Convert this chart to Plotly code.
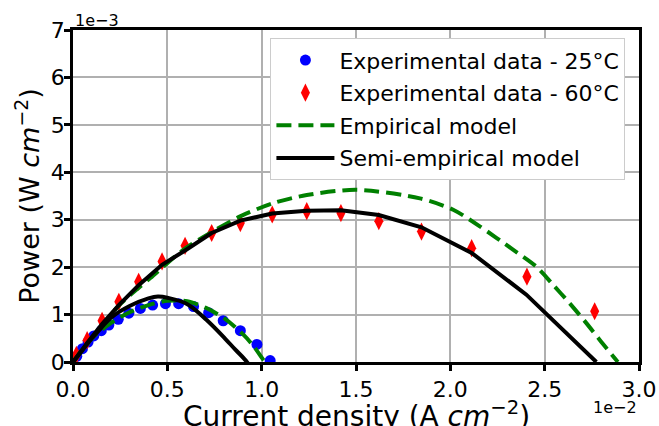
import plotly.graph_objects as go

# Current density in units of 1e-2 A/cm^2, power in units of 1e-3 W/cm^2
exp25_x = [0.02, 0.05, 0.08, 0.11, 0.15, 0.19, 0.24, 0.296, 0.357, 0.422, 0.49, 0.56, 0.639, 0.719, 0.796, 0.887, 0.975, 1.045]
exp25_y = [0.12, 0.28, 0.42, 0.55, 0.66, 0.78, 0.90, 1.03, 1.13, 1.20, 1.23, 1.23, 1.17, 1.04, 0.87, 0.66, 0.37, 0.03]

exp60_x = [0.018, 0.075, 0.154, 0.243, 0.348, 0.472, 0.594, 0.735, 0.887, 1.056, 1.239, 1.42, 1.621, 1.847, 2.113, 2.406, 2.765]
exp60_y = [0.15, 0.46, 0.87, 1.27, 1.69, 2.12, 2.45, 2.72, 2.93, 3.11, 3.18, 3.14, 2.97, 2.75, 2.40, 1.80, 1.07]

emp25_x = [0.0, 0.1, 0.2, 0.3, 0.4, 0.5, 0.605, 0.705, 0.806, 0.907, 0.958, 1.008, 1.018]
emp25_y = [0.0, 0.5, 0.82, 1.05, 1.2, 1.29, 1.28, 1.14, 0.91, 0.56, 0.33, 0.05, 0.0]

emp60_x = [0.0, 0.1, 0.25, 0.41, 0.586, 0.727, 0.886, 1.062, 1.239, 1.504, 1.839, 2.015, 2.156, 2.332, 2.456, 2.544, 2.632, 2.721, 2.791, 2.888]
emp60_y = [0.0, 0.5, 1.22, 1.77, 2.37, 2.72, 3.07, 3.35, 3.52, 3.63, 3.45, 3.21, 2.86, 2.37, 2.01, 1.63, 1.24, 0.82, 0.47, 0.0]

semi25_x = [0.0, 0.05, 0.1, 0.15, 0.2, 0.3, 0.4, 0.45, 0.505, 0.606, 0.707, 0.807, 0.858, 0.909, 0.96]
semi25_y = [0.0, 0.25, 0.5, 0.72, 0.93, 1.18, 1.34, 1.38, 1.35, 1.22, 0.89, 0.49, 0.27, 0.06, -0.2]

semi60_x = [0.0, 0.018, 0.075, 0.154, 0.243, 0.348, 0.472, 0.594, 0.735, 0.887, 1.056, 1.239, 1.42, 1.621, 1.847, 2.113, 2.403, 2.774]
semi60_y = [0.0, 0.1, 0.4, 0.8, 1.2, 1.62, 2.05, 2.35, 2.72, 2.98, 3.13, 3.19, 3.20, 3.10, 2.84, 2.30, 1.42, 0.0]

x_ticks = [0.0, 0.5, 1.0, 1.5, 2.0, 2.5, 3.0]
y_ticks = [0, 1, 2, 3, 4, 5, 6, 7]

FONT = "DejaVu Sans"
DASH = "15px,7px"

fig = go.Figure()
fig.add_trace(go.Scatter(x=exp25_x, y=exp25_y, mode="markers", name="Experimental data - 25°C", legendgroup="b",
                         marker=dict(color="blue", size=11, symbol="circle", line=dict(width=0))))
fig.add_trace(go.Scatter(x=exp60_x, y=exp60_y, mode="markers", name="Experimental data - 60°C", legendgroup="r",
                         marker=dict(color="red", size=13, symbol="diamond-tall", line=dict(width=0))))
fig.add_trace(go.Scatter(x=emp25_x, y=emp25_y, mode="lines", name="Empirical model", legendgroup="emp",
                         line=dict(color="green", width=4, dash=DASH, shape="spline", smoothing=0.8)))
fig.add_trace(go.Scatter(x=emp60_x, y=emp60_y, mode="lines", name="Empirical model", legendgroup="emp",
                         showlegend=False,
                         line=dict(color="green", width=4, dash=DASH, shape="spline", smoothing=0.8)))
fig.add_trace(go.Scatter(x=semi25_x, y=semi25_y, mode="lines", name="Semi-empirical model", legendgroup="semi",
                         line=dict(color="black", width=4, shape="spline")))
fig.add_trace(go.Scatter(x=semi60_x, y=semi60_y, mode="lines", name="Semi-empirical model", legendgroup="semi",
                         showlegend=False, line=dict(color="black", width=4)))

axis_common = dict(showgrid=True, gridcolor="#b0b0b0", gridwidth=1.5, showline=True, linecolor="black",
                   linewidth=2.5, mirror=True, ticks="outside", ticklen=6, tickwidth=2.5, tickcolor="black",
                   zeroline=False, automargin=False, tickfont=dict(family=FONT, size=22, color="black"))

fig.update_layout(
    width=659, height=426,
    margin=dict(l=72.5, r=19.5, t=30, b=63.7),
    paper_bgcolor="white", plot_bgcolor="white",
    font=dict(family=FONT, color="black"),
    showlegend=True,
    legend=dict(x=0.976, y=0.975, xanchor="right", yanchor="top", bgcolor="white",
                bordercolor="#cccccc", borderwidth=1, font=dict(family=FONT, size=22),
                tracegroupgap=1, itemwidth=58),
    xaxis=dict(range=[0, 3.0], tickvals=x_ticks, tickformat=".1f", **axis_common),
    yaxis=dict(range=[0, 7], tickvals=y_ticks, ticklabelstandoff=-5,
               title=dict(text="Power (W <i>cm</i><sup>−2</sup>)", font=dict(family=FONT, size=27), standoff=4),
               **axis_common),
    annotations=[
        dict(text="Current density (A <i>cm</i><sup>−2</sup>)", xref="paper", yref="paper", x=0.5, y=0.0,
             xanchor="center", yanchor="middle", yshift=-52, showarrow=False,
             font=dict(family=FONT, size=28, color="black")),
        dict(text="1e−3", xref="paper", yref="paper", x=0.0, y=1.0, xanchor="left", yanchor="bottom",
             showarrow=False, font=dict(family=FONT, size=16, color="black"), yshift=-2),
        dict(text="1e−2", xref="paper", yref="paper", x=1.0, y=0.0, xanchor="right", yanchor="top",
             showarrow=False, font=dict(family=FONT, size=16, color="black"), yshift=-34),
    ],
)

fig.write_html("out.html")
